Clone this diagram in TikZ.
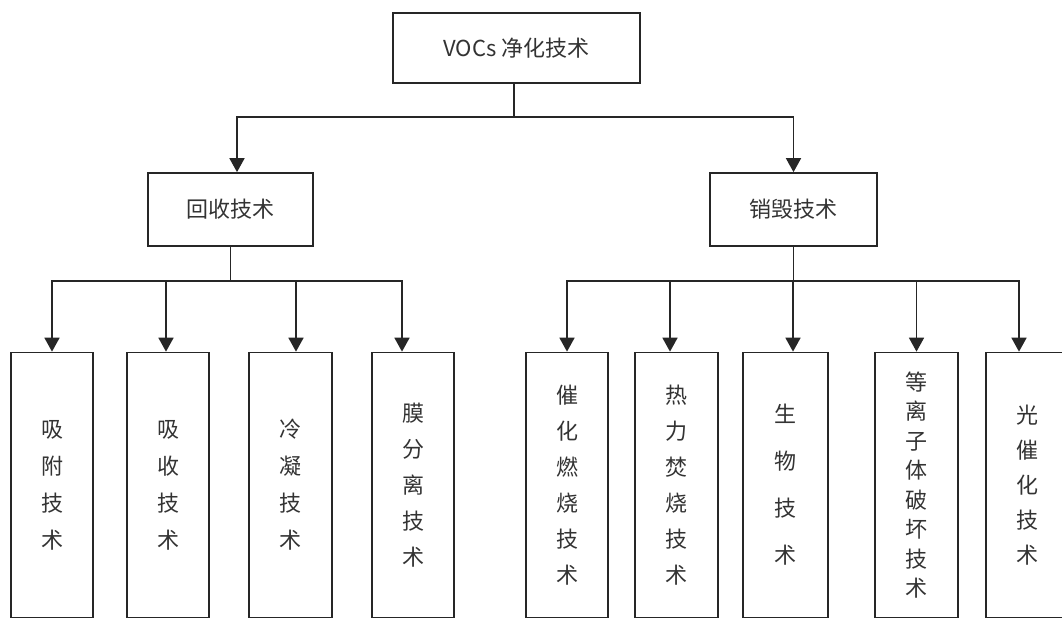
\documentclass[tikz,border=0pt]{standalone}
\usepackage{fontspec}
\setmainfont{Noto Sans CJK SC}
\usetikzlibrary{arrows.meta}
\definecolor{linecol}{gray}{0.15}
\definecolor{textcol}{gray}{0.2}
\tikzset{
  box/.style = {draw = linecol, line width = 1.7pt, inner sep = 0pt, text = textcol, font = \fontsize{22pt}{26pt}\selectfont},
  leafbox/.style = {box, minimum height = 265pt, align = center},
  link/.style = {draw = linecol, line width = 1.7pt},
  arr/.style = {link, -{Triangle[length = 14pt, width = 15pt]}}
}
\begin{document}
\begin{tikzpicture}[x = 1pt, y = -1pt]
\useasboundingbox (0,0) rectangle (1062,619);
\clip (0,0) rectangle (1062,619);
\node[box, minimum width = 247pt, minimum height = 70pt] (voc) at (516.5,48) {VOCs 净化技术};
\node[box, minimum width = 165pt, minimum height = 73pt] (rec) at (230.5,209.5) {回收技术};
\node[box, minimum width = 167pt, minimum height = 73pt] (des) at (793.5,209.5) {销毁技术};
\foreach \name/\x/\w/\sk/\txt in {ads/52/82/37/吸\\附\\技\\术, abs/168/82/37/吸\\收\\技\\术, cond/290.5/83/37/冷\\凝\\技\\术, memb/413/82/36/膜\\分\\离\\技\\术, cat/567/82/36/催\\化\\燃\\烧\\技\\术, therm/676.5/83/36/热\\力\\焚\\烧\\技\\术, bio/785.5/85/47/生\\物\\技\\术, plas/916.5/83/29.5/等\\离\\子\\体\\破\\坏\\技\\术, photo/1027.5/83/35/光\\催\\化\\技\\术}
  \node[leafbox, minimum width = \w pt, font = \fontsize{22pt}{\sk pt}\selectfont] (\name) at (\x,485) {\txt};
\coordinate (vbus) at (514,117);
\coordinate (rbus) at (230.5,281);
\coordinate (dbus) at (793.5,281);
\draw[link] ([xshift = -2.5pt]voc.south) -- (vbus);
\draw[arr] (vbus) -| ([xshift = 6.5pt]rec.north);
\draw[arr] (vbus) -| (des.north);
\draw[link] (rec.south) -- (rbus);
\draw[link] (des.south) -- (dbus);
\foreach \name/\dx in {ads/0, abs/-2, cond/5.5, memb/-11} \draw[arr] (rbus) -| ([xshift = \dx pt]\name.north);
\foreach \name/\dx in {cat/0, therm/-6.5, bio/7.5, plas/0, photo/-8.5} \draw[arr] (dbus) -| ([xshift = \dx pt]\name.north);
\end{tikzpicture}
\end{document}
